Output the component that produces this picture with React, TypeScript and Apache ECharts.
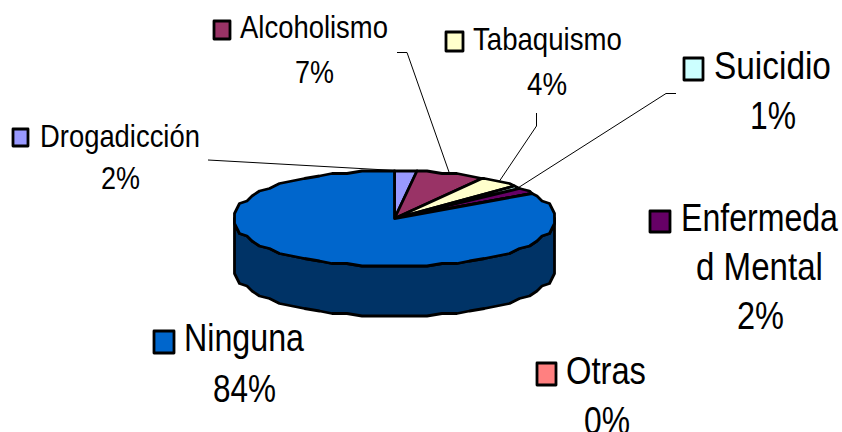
import React, { useEffect, useRef } from "react";
import * as echarts from "echarts";

// Data
const categories = ["Drogadicción", "Alcoholismo", "Tabaquismo", "Suicidio", "Enfermedad Mental", "Otras", "Ninguna"];
const values = [2.2, 6.9, 4.2, 0.9, 2.1, 0.1, 83.6];
const percentLabels = ["2%", "7%", "4%", "1%", "2%", "0%", "84%"];

// Styles and layout, index-aligned with categories
const colors = ["#9999FF", "#993366", "#FFFFCC", "#CCFFFF", "#660066", "#FF8080", "#0066CC"];
const wallColor = "#003366";
const swatches = [
  [13, 129, 15, 17], [214, 21, 16, 18], [446, 32, 17, 19], [684, 58, 19, 22], [650, 211, 20, 21], [537, 363, 19, 22], [154, 331, 20, 22],
];
// text, left, right, baseline, font size
const labelLines: any[][] = [
  [["Drogadicción", 40, 200, 147.5, 31], ["2%", 101, 140, 189, 31]],
  [["Alcoholismo", 240, 388, 38, 31], ["7%", 295, 334, 83, 31]],
  [["Tabaquismo", 473, 622, 50, 31], ["4%", 527, 567, 95, 31]],
  [["Suicidio", 714, 831, 79.5, 38], ["1%", 750, 796, 129, 38]],
  [["Enfermeda", 681, 838, 231.5, 38], ["d Mental", 696, 823, 280.5, 38], ["2%", 737, 784, 329, 38]],
  [["Otras", 566, 646, 384.5, 38], ["0%", 584, 630, 434, 38]],
  [["Ninguna", 184, 304, 351, 38], ["84%", 213, 276, 402.5, 38]],
];
// leader line start points; the last point is computed from the slice
const leaders: number[][][] = [
  [[208, 160]],
  [[397, 52.5], [407, 52.5]],
  [[536.5, 113], [536.5, 126]],
  [[676, 93.5], [666, 93.5]],
  [], [], [],
];
const CX = 394.5, CY = 218.5, RX = 161, RY = 48, DEPTH = 50;
const STEP = 1 / 64, SNAP = 2.5; // the reference's low-resolution, slightly uneven outline

const total = values.reduce((a, b) => a + b, 0);
const point = (frac: number, dy = 0): number[] => {
  const t = frac * Math.PI * 2;
  const x = RX * Math.sin(t), y = -RY * Math.cos(t);
  return [CX + Math.round(x / SNAP) * SNAP, CY + Math.round(y / SNAP) * SNAP + dy];
};
const arcPoints = (from: number, to: number, dy = 0): number[][] => {
  const fracs = [from];
  for (let k = Math.floor(from / STEP) + 1; k * STEP < to; k++) fracs.push(k * STEP);
  fracs.push(to);
  return fracs.map((f) => point(f, dy));
};
const measure = document.createElement("canvas").getContext("2d")!;
const FONT = '"Liberation Sans"';

const renderItem = (params: any, api: any) => {
  const i = params.dataIndex;
  const from = values.slice(0, i).reduce((a, b) => a + b, 0) / total;
  const to = from + api.value(0) / total;
  const children: any[] = [];
  const stroke = { stroke: "#000", lineWidth: 2.8, lineJoin: "round" };

  // side wall: only the front half of the ellipse is visible
  const wFrom = Math.max(from, 0.25), wTo = Math.min(to, 0.75);
  if (wTo > wFrom) {
    const top = arcPoints(wFrom, wTo);
    const bottom = arcPoints(wFrom, wTo, DEPTH).reverse();
    children.push({ type: "polygon", shape: { points: [...top, ...bottom] }, style: { fill: wallColor, ...stroke } });
  }
  // top face
  children.push({
    type: "polygon",
    shape: { points: [[CX, CY], ...arcPoints(from, to)] },
    style: { fill: colors[i], ...stroke },
  });
  // leader
  if (leaders[i].length) {
    children.push({
      type: "polyline",
      shape: { points: [...leaders[i], point((from + to) / 2)] },
      style: { fill: "none", stroke: "#000", lineWidth: 1 },
    });
  }
  // legend key
  const [sx, sy, sw, sh] = swatches[i];
  children.push({ type: "rect", shape: { x: sx, y: sy, width: sw, height: sh }, style: { fill: colors[i], ...stroke } });
  // label lines, stretched to the width they have in the picture
  labelLines[i].forEach(([text, left, right, baseline, size]) => {
    const font = `${size}px ${FONT}`;
    measure.font = font;
    const natural = measure.measureText(text).width;
    children.push({
      type: "text",
      x: left,
      y: baseline - size * 0.86,
      scaleX: (right - left) / natural,
      style: { x: 0, y: 0, text, font, fill: "#000", textBaseline: "top", textAlign: "left" },
    });
  });
  return { type: "group", children };
};

export default function App() {
  const ref = useRef<HTMLDivElement>(null);
  useEffect(() => {
    document.body.style.margin = "0";
    document.body.style.background = "#fff";
    const chart = echarts.init(ref.current!, undefined, { renderer: "svg" });
    chart.setOption({
      animation: false,
      backgroundColor: "#fff",
      series: [
        {
          type: "custom",
          coordinateSystem: "none",
          silent: true,
          clip: false,
          renderItem,
          data: categories.map((name, i) => ({ name, value: [values[i], percentLabels[i]] })),
        },
      ],
    });
    return () => chart.dispose();
  }, []);
  return <div ref={ref} style={{ width: 842, height: 432, overflow: "hidden" }} />;
}
